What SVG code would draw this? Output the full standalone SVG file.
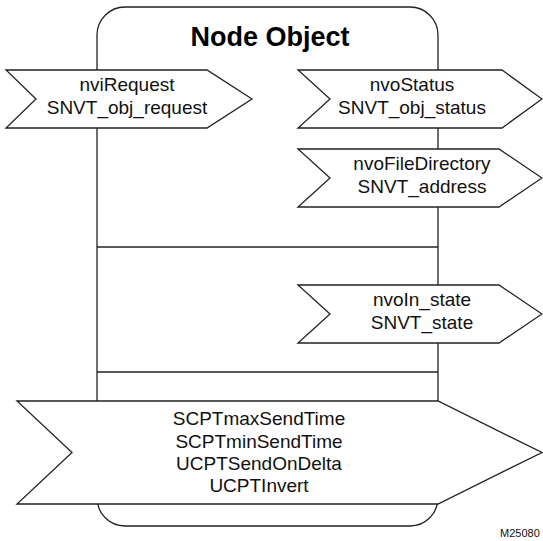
<svg xmlns="http://www.w3.org/2000/svg" width="543" height="541" viewBox="0 0 543 541">
<style>
  .ln{fill:none;stroke:#222;stroke-width:1.3}
  .box{fill:#fff;stroke:#222;stroke-width:1.3;stroke-linejoin:miter}
  .t{font-family:"Liberation Sans",Arial,sans-serif;font-size:19px;fill:#111;text-anchor:middle}
  .title{font-family:"Liberation Sans",Arial,sans-serif;font-size:27px;font-weight:bold;fill:#000;text-anchor:middle}
  .tag{font-family:"Liberation Sans",Arial,sans-serif;font-size:11px;fill:#111}
</style>
<rect width="543" height="541" fill="#fff"/>
<g id="node-object">
  <rect class="box" x="97" y="7" width="341" height="519" rx="28" ry="28"/>
  <text class="title" x="270" y="46">Node Object</text>
</g>
<g id="dividers">
  <line class="ln" x1="97" y1="247" x2="438" y2="247"/>
  <line class="ln" x1="97" y1="372" x2="438" y2="372"/>
</g>
<g id="connectors"></g>
<g id="nviRequest">
  <polygon class="box" points="6,70 207,70 252,99 207,128 6,128 36,99"/>
  <text class="t" x="127" y="91">nviRequest</text>
  <text class="t" x="127" y="114">SNVT_obj_request</text>
</g>
<g id="nvoStatus">
  <polygon class="box" points="298,70 502,70 542,99 502,128 298,128 330,99"/>
  <text class="t" x="412" y="91">nvoStatus</text>
  <text class="t" x="412" y="114">SNVT_obj_status</text>
</g>
<g id="nvoFileDirectory">
  <polygon class="box" points="298,149 499,149 542,178 499,207 298,207 330,178"/>
  <text class="t" x="422" y="170">nvoFileDirectory</text>
  <text class="t" x="422" y="193">SNVT_address</text>
</g>
<g id="nvoIn_state">
  <polygon class="box" points="298,285 499,285 542,314 499,343 298,343 330,314"/>
  <text class="t" x="422" y="306">nvoIn_state</text>
  <text class="t" x="422" y="329">SNVT_state</text>
</g>
<g id="config-properties">
  <polygon class="box" points="17,401 438,401 542,452.5 438,504 17,504 72,452.5"/>
  <text class="t" x="259" y="425">SCPTmaxSendTime</text>
  <text class="t" x="259" y="447.5">SCPTminSendTime</text>
  <text class="t" x="259" y="469.5">UCPTSendOnDelta</text>
  <text class="t" x="259" y="491.5">UCPTInvert</text>
</g>
<text class="tag" x="500" y="536.5">M25080</text>
</svg>
